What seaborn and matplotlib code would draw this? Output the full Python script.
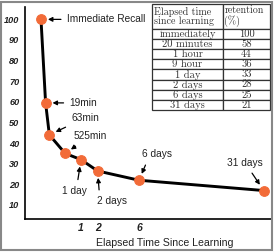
import numpy as np
import pandas as pd
import matplotlib
matplotlib.use("Agg")
import matplotlib.pyplot as plt
import seaborn as sns
from matplotlib.patches import Rectangle

# ---- data ----
labels = ["Immediate Recall", "19min", "63min", "525min", "1 day", "2 days", "6 days", "31 days"]
elapsed_days = [0.0, 19 / 1440, 63 / 1440, 525 / 1440, 1.0, 2.0, 6.0, 31.0]
retention_plot = [100, 59.5, 44, 35, 32, 26.5, 22, 17]
y_ticks = [10, 20, 30, 40, 50, 60, 70, 80, 90, 100]
x_ticks = [1, 2, 6]
table_col1 = ["immediately", "20 minutes", "1 hour", "9 hour", "1 day", "2 days", "6 days", "31 days"]
table_col2 = ["100", "58", "44", "36", "33", "28", "25", "21"]
table_head = ["Elapsed time\nsince learning", "retention\n(%)"]
x_label = "Elapsed Time Since Learning"

df = pd.DataFrame({"days": elapsed_days, "retention": retention_plot})

sns.set_style("white")
plt.rcParams["font.family"] = ["Liberation Sans", "DejaVu Sans"]

fig = plt.figure(figsize=(2.74, 2.52), dpi=100)
fig.patch.set_facecolor("white")
ax = fig.add_axes([25 / 274, 33 / 252, 247 / 274, 212 / 252])
ax.set_facecolor("white")

def fwd(x):
    x = np.asarray(x, dtype=float)
    return np.sign(x) * np.sqrt(np.abs(x))

def inv(y):
    y = np.asarray(y, dtype=float)
    return np.sign(y) * y ** 2

ax.set_xscale("function", functions=(fwd, inv))

orange = "#F26B38"
sns.lineplot(data=df, x="days", y="retention", ax=ax, color="black", lw=2.1,
             marker="o", markersize=7, markerfacecolor=orange, markeredgecolor=orange,
             sort=False, zorder=3)

ax.set_xlim(-0.16, 33.35)
ax.set_ylim(3.2, 106)
ax.set_yticks(y_ticks)
ax.set_yticklabels([str(v) for v in y_ticks], fontstyle="italic", fontweight="bold",
                   fontsize=6.6, color="#222222")
ax.set_xticks(x_ticks)
ax.set_xticklabels([str(v) for v in x_ticks], fontstyle="italic", fontweight="bold",
                   fontsize=7.5, color="#222222")
ax.tick_params(axis="y", direction="in", length=5, width=1.1, pad=4, color="black")
ax.tick_params(axis="x", direction="in", length=3.5, width=1.1, pad=3, color="black")
ax.minorticks_off()
for s in ["top", "right"]:
    ax.spines[s].set_visible(False)
for s in ["left", "bottom"]:
    ax.spines[s].set_color("black")
    ax.spines[s].set_linewidth(1.2)
ax.set_ylabel("")
ax.set_xlabel(x_label, fontsize=7.6, color="#222222")
ax.xaxis.set_label_coords(0.567, -0.09)

# ---- annotations ----
offsets = [(26, 0), (24, 0), (22, 17), (8, 17), (-7, -31), (14, -30), (18, 26), (-19, 28)]
aligns = ["left", "left", "left", "left", "center", "center", "center", "center"]
relposes = [(0.5, 0.5), (0.5, 0.5), (0.5, 0.5), (0.5, 0.5),
            (0.62, 1.0), (0.1, 1.0), (0.2, 0.0), (0.6, 0.0)]
for lab, xd, yd, off, ha, rp in zip(labels, elapsed_days, retention_plot, offsets, aligns, relposes):
    ax.annotate(lab, xy=(xd, yd), xytext=off, textcoords="offset pixels",
                ha=ha, va="center", fontsize=7.3, color="#222222",
                arrowprops=dict(arrowstyle="-|>,head_length=0.35,head_width=0.18",
                                color="black", lw=0.9, shrinkA=2, shrinkB=5, relpos=rp))

# ---- table ----
cells = [[a, b] for a, b in zip(table_col1, table_col2)]
tbl = ax.table(cellText=cells, colLabels=table_head, cellLoc="center",
               colWidths=[71, 47], bbox=[127 / 247, 109 / 212, 118 / 247, 106 / 212])
tbl.auto_set_font_size(False)
for (r, c), cell in tbl.get_celld().items():
    cell.set_edgecolor("#333333")
    cell.set_linewidth(0.9)
    cell.set_facecolor("white")
    txt = cell.get_text()
    txt.set_fontfamily("cmr10")
    txt.set_fontsize(7.6)
    txt.set_color("#333333")
    if r == 0:
        cell.set_height(cell.get_height() * 2.45)
        txt.set_ha("left")
        txt.set_fontsize(7.2)
        txt.set_linespacing(0.95)
        cell._loc = "left"
        cell.PAD = 0.03
tbl.set_zorder(5)

fig.add_artist(Rectangle((0.004, 0.006), 0.99, 0.988, transform=fig.transFigure,
                         fill=False, edgecolor="#888888", lw=1.5))

fig.savefig("out.png", dpi=100, facecolor=fig.get_facecolor())
